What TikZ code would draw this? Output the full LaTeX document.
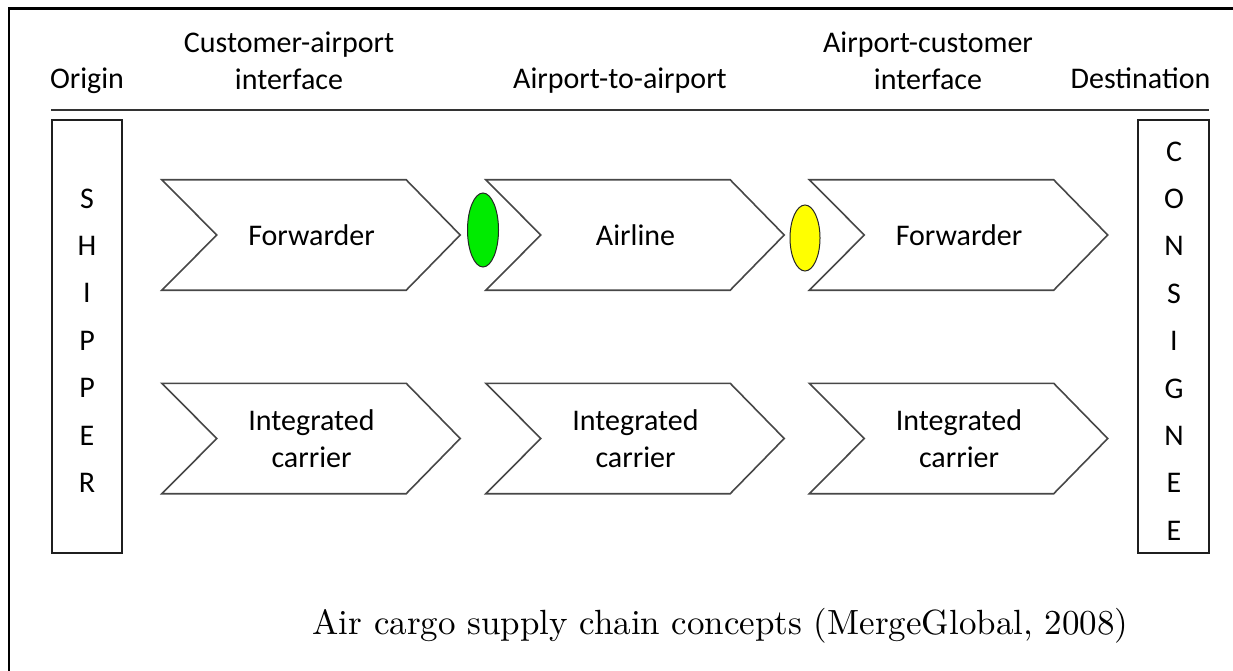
\documentclass[tikz,border=0pt]{standalone}
\usepackage{fontspec}
\setmainfont{Carlito}
\newfontfamily\capfont{lmroman10-regular}[Extension=.otf]
\usetikzlibrary{shapes.geometric}
\tikzset{
  lbl/.style={font=\fontsize{30}{37}\selectfont, text=black, inner sep=0pt},
  hdr/.style={lbl, align=center},
  chev/.style={lbl, align=center, minimum width=189pt, minimum height=110pt},
  chevline/.style={draw=black!72, line width=1.6pt, fill=white, line join=miter},
  tallbox/.style={draw=black!88, line width=2pt, inner sep=0pt},
  letters/.style={font=\fontsize{30}{47.4}\selectfont, align=center, inner sep=0pt},
  junction/.style={ellipse, draw=black!85, line width=1pt, inner sep=0pt},
}
\newcommand\chevronaround[1]{%
  \draw[chevline] ([xshift=-55pt]#1.north west) -- (#1.north east) -- ([xshift=54pt]#1.east)
    -- (#1.south east) -- ([xshift=-55pt]#1.south west) -- (#1.west) -- cycle;}
\begin{document}
\begin{tikzpicture}[x=1pt, y=-1pt]
\useasboundingbox (0,0) rectangle (1233,671);
% frame
\draw[line width=2.5pt, black] (9,671) -- (9,8.5) -- (1233,8.5);
% headers
\node[lbl, anchor=base] (origin) at (87,89) {Origin};
\node[hdr] (cai) at (289,60.5) {Customer-airport\\interface};
\node[lbl, anchor=base] (a2a) at (620,89) {Airport-to-airport};
\node[hdr] (aci) at (928,60.5) {Airport-customer\\interface};
\node[lbl, anchor=base] (dest) at (1140.5,89) {Destination};
\coordinate (ruleL) at (51,110);
\coordinate (ruleR) at (1209,110);
\draw[line width=2pt, black!80] (ruleL) -- (ruleR);
% shipper / consignee
\node[tallbox, minimum width=70pt, minimum height=432pt] (shipbox) at (87,336.5) {};
\node[letters] (shipper) at (87,340.5) {S\\H\\I\\P\\P\\E\\R};
\node[tallbox, minimum width=71pt, minimum height=433pt] (consbox) at (1173,336.5) {};
\node[letters] (consignee) at (1174,341) {C\\O\\N\\S\\I\\G\\N\\E\\E};
% chevrons row 1
\node[chev] (fw1) at (311.5,235) {};
\chevronaround{fw1}
\node[lbl] at (fw1) {Forwarder};
\node[chev] (air) at (635.5,235) {};
\chevronaround{air}
\node[lbl] at (air) {Airline};
\node[chev] (fw2) at (959,235) {};
\chevronaround{fw2}
\node[lbl] at (fw2) {Forwarder};
% chevrons row 2
\node[chev] (ic1) at (311.5,438.5) {};
\chevronaround{ic1}
\node[hdr] at (ic1) {Integrated\\carrier};
\node[chev] (ic2) at (635.5,438.5) {};
\chevronaround{ic2}
\node[hdr] at (ic2) {Integrated\\carrier};
\node[chev] (ic3) at (959,438.5) {};
\chevronaround{ic3}
\node[hdr] at (ic3) {Integrated\\carrier};
% junction ovals
\node[junction, fill={rgb,255:red,0;green,235;blue,0}, minimum width=31pt, minimum height=74pt] (green) at (483,230) {};
\node[junction, fill={rgb,255:red,255;green,255;blue,0}, minimum width=30pt, minimum height=66pt] (yellow) at (805,238) {};
% caption
\node[inner sep=0pt, anchor=base, font=\capfont\fontsize{35}{42}\selectfont] (caption) at (720.5,634) {Air cargo supply chain concepts (MergeGlobal, 2008)};
\end{tikzpicture}
\end{document}
